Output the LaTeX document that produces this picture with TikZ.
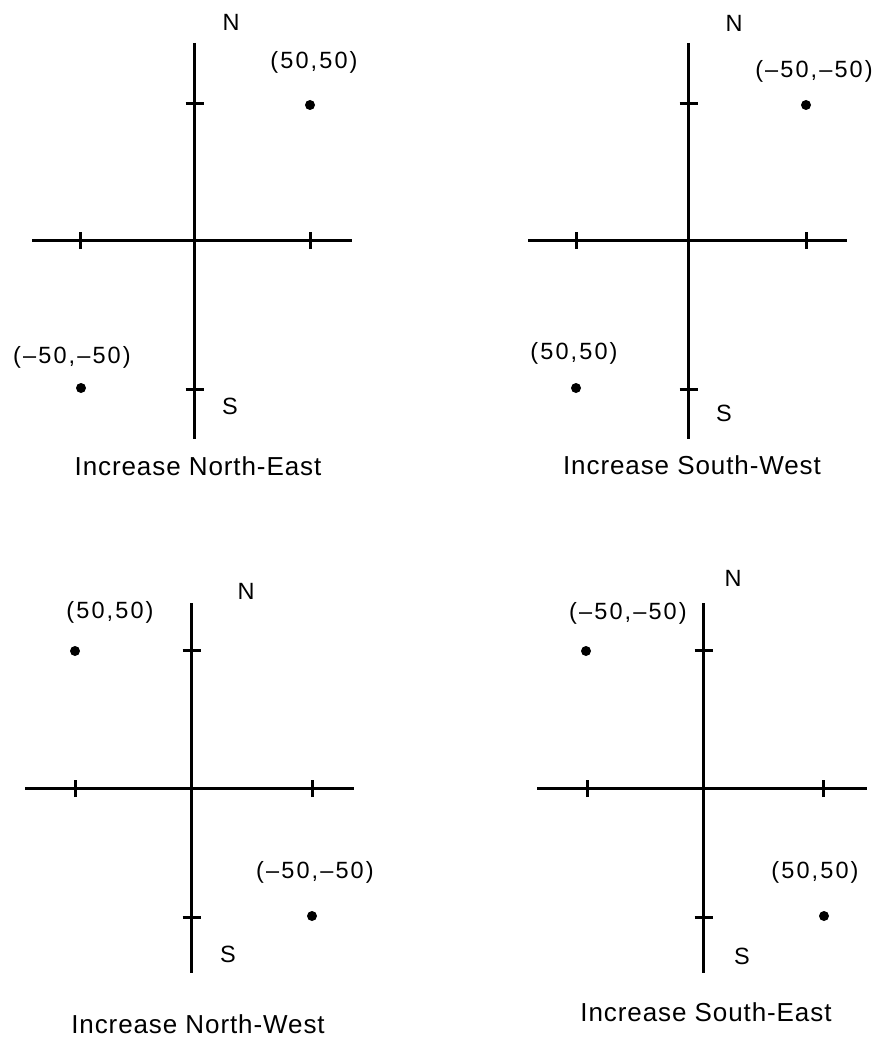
\documentclass[tikz,border=0pt]{standalone}
\usepackage{fontspec}
\newfontfamily\labfont[LetterSpace=9]{Liberation Sans}
\newfontfamily\capfont[LetterSpace=3.5]{Liberation Sans}
\begin{document}
\begin{tikzpicture}[x=1pt,y=-1pt,
  axis/.style={line width=3pt},
  tickmark/.style={line width=3pt},
  dot/.style={circle,fill=black,inner sep=0pt,minimum size=10pt},
  lab/.style={inner sep=0pt,font=\labfont\fontsize{23.5}{27}\selectfont},
  caption/.style={inner sep=0pt,font=\capfont\fontsize{26}{30}\selectfont}]
\useasboundingbox (0,0) rectangle (876,1038);
% ---------- Panel 1: Increase North-East ----------
\coordinate (a1n) at (194.5,43);  \coordinate (a1s) at (194.5,439);
\coordinate (a1w) at (32,240.5);  \coordinate (a1e) at (352,240.5);
\draw[axis] (a1n) -- (a1s);
\draw[axis] (a1w) -- (a1e);
\coordinate (t1w) at (80.5,240.5); \coordinate (t1e) at (310.5,240.5);
\coordinate (t1n) at (194.5,103.5); \coordinate (t1s) at (194.5,389.5);
\foreach \t in {t1w,t1e} \draw[tickmark] ([yshift=-8.5pt]\t) -- ([yshift=8.5pt]\t);
\foreach \t in {t1n,t1s} \draw[tickmark] ([xshift=-9pt]\t) -- ([xshift=9pt]\t);
\node[dot] (d1a) at (310,105) {};
\node[dot] (d1b) at (81,388) {};
\node[lab] (n1) at (231,22) {N};
\node[lab] (s1) at (230,406) {S};
\node[lab] (p1a) at (314,62) {(50,50)};
\node[lab] (p1b) at (72,357) {(–50,–50)};
\node[caption] (c1) at (198,466) {Increase North-East};
% ---------- Panel 2: Increase South-West ----------
\coordinate (a2n) at (688.5,43);  \coordinate (a2s) at (688.5,439);
\coordinate (a2w) at (528,240.5); \coordinate (a2e) at (847,240.5);
\draw[axis] (a2n) -- (a2s);
\draw[axis] (a2w) -- (a2e);
\coordinate (t2w) at (576.5,240.5); \coordinate (t2e) at (806.5,240.5);
\coordinate (t2n) at (688.5,103.5); \coordinate (t2s) at (688.5,389.5);
\foreach \t in {t2w,t2e} \draw[tickmark] ([yshift=-8.5pt]\t) -- ([yshift=8.5pt]\t);
\foreach \t in {t2n,t2s} \draw[tickmark] ([xshift=-9pt]\t) -- ([xshift=9pt]\t);
\node[dot] (d2a) at (806,105) {};
\node[dot] (d2b) at (576,388) {};
\node[lab] (n2) at (734,23) {N};
\node[lab] (s2) at (724,413) {S};
\node[lab] (p2a) at (814,71) {(–50,–50)};
\node[lab] (p2b) at (574,353) {(50,50)};
\node[caption] (c2) at (692,465) {Increase South-West};
% ---------- Panel 3: Increase North-West ----------
\coordinate (a3n) at (191.5,603);  \coordinate (a3s) at (191.5,973);
\coordinate (a3w) at (25,788.5);   \coordinate (a3e) at (354,788.5);
\draw[axis] (a3n) -- (a3s);
\draw[axis] (a3w) -- (a3e);
\coordinate (t3w) at (75.5,788.5); \coordinate (t3e) at (312.5,788.5);
\coordinate (t3n) at (191.5,650.5); \coordinate (t3s) at (191.5,917.5);
\foreach \t in {t3w,t3e} \draw[tickmark] ([yshift=-8.5pt]\t) -- ([yshift=8.5pt]\t);
\foreach \t in {t3n,t3s} \draw[tickmark] ([xshift=-9pt]\t) -- ([xshift=9pt]\t);
\node[dot] (d3a) at (75,651) {};
\node[dot] (d3b) at (312,916) {};
\node[lab] (n3) at (246,591) {N};
\node[lab] (s3) at (228,954) {S};
\node[lab] (p3a) at (110,612) {(50,50)};
\node[lab] (p3b) at (315,872) {(–50,–50)};
\node[caption] (c3) at (198,1024) {Increase North-West};
% ---------- Panel 4: Increase South-East ----------
\coordinate (a4n) at (703.5,603);  \coordinate (a4s) at (703.5,973);
\coordinate (a4w) at (537,788.5);  \coordinate (a4e) at (867,788.5);
\draw[axis] (a4n) -- (a4s);
\draw[axis] (a4w) -- (a4e);
\coordinate (t4w) at (587.5,788.5); \coordinate (t4e) at (823.5,788.5);
\coordinate (t4n) at (703.5,650.5); \coordinate (t4s) at (703.5,917.5);
\foreach \t in {t4w,t4e} \draw[tickmark] ([yshift=-8.5pt]\t) -- ([yshift=8.5pt]\t);
\foreach \t in {t4n,t4s} \draw[tickmark] ([xshift=-9pt]\t) -- ([xshift=9pt]\t);
\node[dot] (d4a) at (586,651) {};
\node[dot] (d4b) at (824,916) {};
\node[lab] (n4) at (733,578) {N};
\node[lab] (s4) at (742,956) {S};
\node[lab] (p4a) at (628,613) {(–50,–50)};
\node[lab] (p4b) at (815,872) {(50,50)};
\node[caption] (c4) at (706,1012) {Increase South-East};
\end{tikzpicture}
\end{document}
